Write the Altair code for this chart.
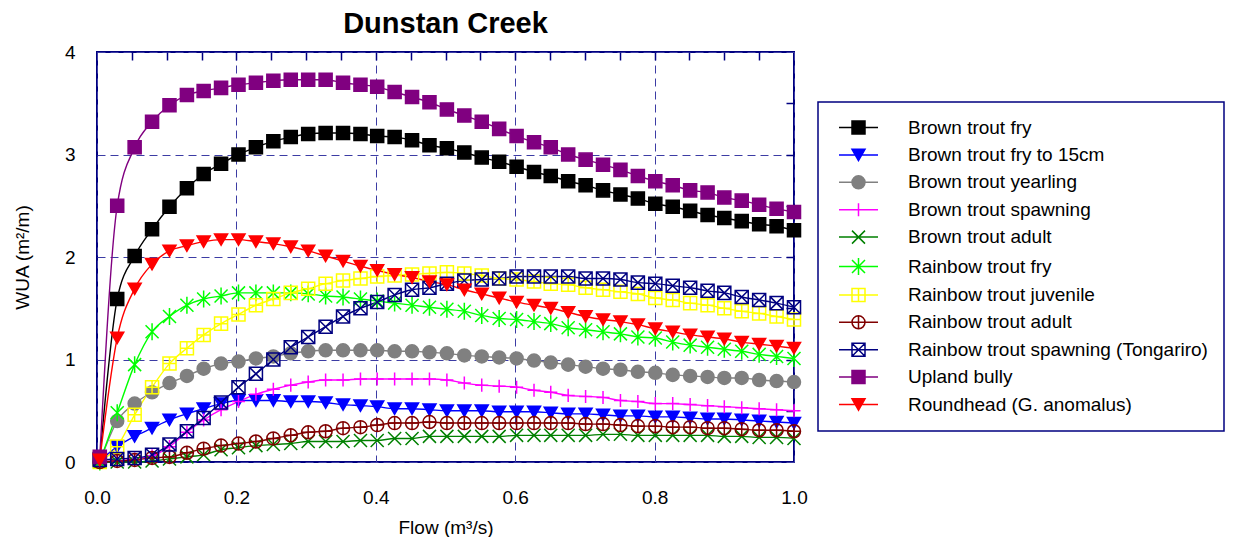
import altair as alt
import pandas as pd

# Flow (m3/s) at which habitat was modelled
flows = [0.004, 0.029, 0.054, 0.079, 0.104, 0.129, 0.153, 0.178, 0.203, 0.228,
         0.253, 0.278, 0.303, 0.328, 0.353, 0.378, 0.402, 0.427, 0.452, 0.477,
         0.502, 0.527, 0.552, 0.577, 0.602, 0.627, 0.651, 0.676, 0.701, 0.726,
         0.751, 0.776, 0.801, 0.826, 0.851, 0.876, 0.900, 0.925, 0.950, 0.975, 1.000]

# Weighted usable area (m2/m) for each species / life stage
brown_fry = [0.03, 1.59, 2.01, 2.27, 2.49, 2.67, 2.81, 2.91, 3.00, 3.07, 3.13, 3.17, 3.20, 3.21,
             3.21, 3.20, 3.18, 3.17, 3.14, 3.09, 3.06, 3.02, 2.97, 2.93, 2.88, 2.83, 2.79, 2.74,
             2.70, 2.65, 2.61, 2.57, 2.52, 2.49, 2.45, 2.41, 2.38, 2.35, 2.32, 2.30, 2.26]
brown_fry_15 = [0.01, 0.15, 0.25, 0.33, 0.41, 0.47, 0.52, 0.57, 0.60, 0.60, 0.60, 0.59, 0.59, 0.58,
                0.56, 0.55, 0.54, 0.52, 0.52, 0.51, 0.50, 0.50, 0.50, 0.49, 0.49, 0.49, 0.48, 0.47,
                0.47, 0.46, 0.45, 0.45, 0.44, 0.44, 0.43, 0.42, 0.42, 0.41, 0.40, 0.39, 0.38]
brown_yearling = [0.00, 0.40, 0.57, 0.68, 0.77, 0.84, 0.91, 0.96, 0.98, 1.01, 1.03, 1.06, 1.08, 1.09,
                  1.09, 1.09, 1.09, 1.08, 1.08, 1.07, 1.06, 1.04, 1.03, 1.02, 1.01, 0.99, 0.97, 0.95,
                  0.93, 0.91, 0.90, 0.88, 0.87, 0.85, 0.84, 0.83, 0.82, 0.82, 0.80, 0.79, 0.78]
brown_spawning = [0.00, 0.01, 0.03, 0.06, 0.15, 0.29, 0.41, 0.51, 0.59, 0.66, 0.71, 0.75, 0.78, 0.80,
                  0.80, 0.81, 0.81, 0.81, 0.81, 0.81, 0.80, 0.77, 0.75, 0.74, 0.73, 0.70, 0.68, 0.65,
                  0.64, 0.63, 0.60, 0.59, 0.57, 0.57, 0.56, 0.55, 0.54, 0.53, 0.52, 0.51, 0.50]
brown_adult = [0.00, 0.00, 0.00, 0.01, 0.03, 0.05, 0.07, 0.12, 0.14, 0.16, 0.17, 0.18, 0.20, 0.20,
               0.20, 0.21, 0.21, 0.23, 0.23, 0.25, 0.25, 0.25, 0.25, 0.25, 0.26, 0.26, 0.26, 0.26,
               0.26, 0.27, 0.27, 0.26, 0.26, 0.26, 0.26, 0.26, 0.25, 0.25, 0.24, 0.24, 0.23]
rainbow_fry = [0.00, 0.48, 0.95, 1.27, 1.42, 1.53, 1.59, 1.62, 1.65, 1.65, 1.65, 1.65, 1.64, 1.62,
               1.61, 1.59, 1.57, 1.55, 1.53, 1.51, 1.49, 1.47, 1.43, 1.40, 1.39, 1.37, 1.35, 1.31,
               1.29, 1.27, 1.25, 1.22, 1.21, 1.17, 1.14, 1.12, 1.10, 1.08, 1.05, 1.03, 1.01]
rainbow_juvenile = [0.00, 0.15, 0.46, 0.73, 0.96, 1.11, 1.24, 1.35, 1.44, 1.53, 1.59, 1.65, 1.69, 1.74,
                    1.77, 1.79, 1.81, 1.82, 1.83, 1.84, 1.85, 1.84, 1.82, 1.79, 1.78, 1.76, 1.74, 1.73,
                    1.70, 1.68, 1.66, 1.64, 1.60, 1.58, 1.55, 1.53, 1.50, 1.47, 1.45, 1.42, 1.39]
rainbow_adult = [0.00, 0.01, 0.02, 0.04, 0.05, 0.09, 0.13, 0.16, 0.18, 0.20, 0.23, 0.26, 0.29, 0.30,
                 0.33, 0.34, 0.36, 0.38, 0.38, 0.39, 0.38, 0.38, 0.38, 0.38, 0.38, 0.38, 0.38, 0.38,
                 0.37, 0.37, 0.36, 0.35, 0.35, 0.34, 0.34, 0.33, 0.33, 0.32, 0.31, 0.31, 0.30]
rainbow_spawning = [0.02, 0.03, 0.04, 0.07, 0.17, 0.30, 0.43, 0.58, 0.73, 0.86, 1.00, 1.12, 1.22, 1.32,
                    1.42, 1.50, 1.56, 1.63, 1.68, 1.70, 1.74, 1.77, 1.78, 1.79, 1.81, 1.81, 1.81, 1.81,
                    1.79, 1.79, 1.78, 1.75, 1.74, 1.72, 1.70, 1.67, 1.65, 1.61, 1.58, 1.55, 1.51]
upland_bully = [0.05, 2.50, 3.07, 3.32, 3.48, 3.58, 3.62, 3.65, 3.68, 3.70, 3.72, 3.73, 3.73, 3.73,
                3.70, 3.68, 3.66, 3.61, 3.56, 3.51, 3.44, 3.38, 3.32, 3.25, 3.18, 3.12, 3.07, 3.00,
                2.95, 2.90, 2.85, 2.79, 2.74, 2.70, 2.65, 2.63, 2.58, 2.55, 2.51, 2.47, 2.44]
roundhead = [0.02, 1.21, 1.69, 1.93, 2.06, 2.11, 2.15, 2.17, 2.17, 2.15, 2.13, 2.10, 2.06, 2.01,
             1.96, 1.91, 1.87, 1.83, 1.80, 1.76, 1.73, 1.68, 1.64, 1.60, 1.56, 1.53, 1.50, 1.46,
             1.42, 1.39, 1.37, 1.34, 1.30, 1.27, 1.24, 1.22, 1.20, 1.17, 1.15, 1.13, 1.11]

series_names = [
    "Brown trout fry",
    "Brown trout fry to 15cm",
    "Brown trout yearling",
    "Brown trout spawning",
    "Brown trout adult",
    "Rainbow trout fry",
    "Rainbow trout juvenile",
    "Rainbow trout adult",
    "Rainbow trout spawning (Tongariro)",
    "Upland bully",
    "Roundhead (G. anomalus)",
]
series_values = [brown_fry, brown_fry_15, brown_yearling, brown_spawning, brown_adult,
                 rainbow_fry, rainbow_juvenile, rainbow_adult, rainbow_spawning,
                 upland_bully, roundhead]

line_colors = ["#000000", "#0000ff", "#808080", "#ff00ff", "#008000", "#00ff00",
               "#ffff00", "#800000", "#000080", "#800080", "#ff0000"]
marker_fills = ["#000000", "#0000ff", "#808080", "transparent", "transparent", "transparent",
                "transparent", "transparent", "transparent", "#800080", "#ff0000"]

# Marker outlines on a [-1, 1] box
SQUARE = "M-1,-1H1V1H-1Z"
TRI_DOWN = "M0,0.866L-1,-0.866L1,-0.866Z"
CIRCLE = "M-1,0A1,1 0 1,0 1,0A1,1 0 1,0 -1,0Z"
PLUS = "M-1,0H1M0,-1V1"
CROSS = "M-1,-1L1,1M-1,1L1,-1"
ASTERISK = "M-1,-1L1,1M-1,1L1,-1M0,-1.3V1.3"
marker_paths = [SQUARE, TRI_DOWN, CIRCLE, PLUS, CROSS, ASTERISK,
                SQUARE + PLUS, CIRCLE + PLUS, SQUARE + CROSS, SQUARE, TRI_DOWN]
# Legend keys: a short line segment through the marker
legend_paths = ["M-3,0H3" + p for p in marker_paths]

records = []
for name, values in zip(series_names, series_values):
    for f, v in zip(flows, values):
        records.append({"series": name, "flow": f, "wua": v})
df = pd.DataFrame(records)

NAVY = "#000080"
GRID = "#3c3ca4"
FONT = "Liberation Sans"

x_scale = alt.Scale(domain=[0, 1], nice=False, zero=False)
y_scale = alt.Scale(domain=[0, 4], nice=False)

x_main = alt.Axis(values=[0, 0.2, 0.4, 0.6, 0.8, 1.0], format=".1f", labelFontSize=19,
                  labelColor="black", labelFont=FONT, labelPadding=26, labelFlush=False,
                  labelOverlap=False, tickSize=0, domain=False, grid=True, gridColor=GRID,
                  gridDash=[8, 5], gridWidth=1, title="Flow (m³/s)", titleFontSize=19,
                  titleFont=FONT, titleFontWeight="normal", titleColor="black",
                  titleY=71, titleBaseline="alphabetic")
y_main = alt.Axis(values=[0, 1, 2, 3, 4], format="d", labelFontSize=19, labelColor="black",
                  labelFont=FONT, labelPadding=22, labelFlush=False, labelOverlap=False,
                  tickSize=0, domain=False, grid=True, gridColor=GRID, gridDash=[8, 5],
                  gridWidth=1, title="WUA (m²/m)", titleFontSize=19, titleFont=FONT,
                  titleFontWeight="normal", titleColor="black", titleX=-75, titleY=205,
                  titleAngle=270, titleAlign="center", titleBaseline="middle")

# inward-pointing minor ticks
x_ticks = alt.Axis(values=[round(0.05 * i, 2) for i in range(1, 20)], offset=-8, tickSize=8,
                   tickColor=NAVY, tickWidth=1.5, labels=False, domain=False, grid=False, title="")
y_ticks = alt.Axis(values=[0.5 * i for i in range(1, 8)], offset=-8, tickSize=8,
                   tickColor=NAVY, tickWidth=1.5, labels=False, domain=False, grid=False, title="")

lines = alt.Chart(df).mark_line(strokeWidth=1.4, interpolate="monotone").encode(
    x=alt.X("flow:Q", scale=x_scale, axis=x_main),
    y=alt.Y("wua:Q", scale=y_scale, axis=y_main),
    color=alt.Color("series:N", scale=alt.Scale(domain=series_names, range=line_colors), legend=None),
    order=alt.Order("flow:Q"),
)

points = alt.Chart(df).mark_point(opacity=1, size=170, strokeWidth=1.5).encode(
    x=alt.X("flow:Q", scale=x_scale, axis=x_ticks),
    y=alt.Y("wua:Q", scale=y_scale, axis=y_ticks),
    shape=alt.Shape("series:N", scale=alt.Scale(domain=series_names, range=marker_paths), legend=None),
    fill=alt.Fill("series:N", scale=alt.Scale(domain=series_names, range=marker_fills), legend=None),
    stroke=alt.Stroke("series:N", scale=alt.Scale(domain=series_names, range=line_colors), legend=None),
)

legend = alt.Legend(orient="none", legendX=721, legendY=50, title=None, padding=16,
                    strokeColor=NAVY, fillColor="white", symbolSize=169, symbolStrokeWidth=1.5,
                    symbolOffset=15, labelOffset=40, labelFontSize=19, labelFont=FONT,
                    labelColor="black", labelLimit=500, rowPadding=7.4)

keys = alt.Chart(df).transform_filter("false").mark_point(opacity=1, strokeWidth=1.5).encode(
    shape=alt.Shape("series:N", scale=alt.Scale(domain=series_names, range=legend_paths), legend=legend),
    fill=alt.Fill("series:N", scale=alt.Scale(domain=series_names, range=marker_fills), legend=legend),
    stroke=alt.Stroke("series:N", scale=alt.Scale(domain=series_names, range=line_colors), legend=legend),
)

chart = alt.layer(lines, points, keys).resolve_axis(
    x="independent", y="independent"
).resolve_scale(
    shape="independent", fill="independent", stroke="independent"
).properties(
    width=697,
    height=410,
    title=alt.Title("Dunstan Creek", fontSize=29, fontWeight="bold", font=FONT,
                    color="black", anchor="middle", offset=4),
    autosize=alt.AutoSizeParams(type="none"),
    padding={"left": 97, "top": 52, "right": 453, "bottom": 75},
    background="white",
).configure_view(
    stroke=NAVY, strokeWidth=2
).configure_legend(
    strokeWidth=1.5
)

chart.save("out.html", embed_options={"renderer": "svg", "actions": False})
